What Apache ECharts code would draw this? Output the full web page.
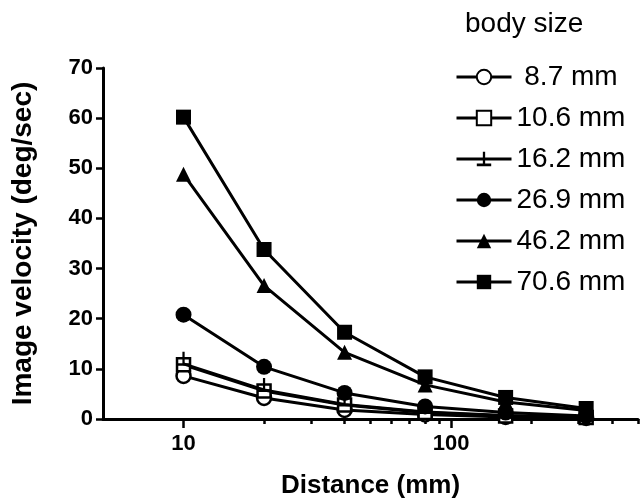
<!DOCTYPE html>
<html>
<head>
<meta charset="utf-8">
<script src="https://cdn.jsdelivr.net/npm/echarts@6/dist/echarts.min.js"></script>
<style>html,body{margin:0;padding:0;background:#fff}#c{width:643px;height:502px}</style>
</head>
<body>
<div id="c"></div>
<script>
var distances = [10, 20, 40, 80, 160, 320];
var sizes = ['8.7 mm', '10.6 mm', '16.2 mm', '26.9 mm', '46.2 mm', '70.6 mm'];
var v87  = [8.6, 4.2, 1.8, 0.9, 0.4, 0.2];
var v106 = [10.8, 5.6, 2.8, 1.3, 0.6, 0.3];
var v162 = [11.0, 5.8, 2.9, 1.4, 0.7, 0.3];
var v269 = [20.8, 10.4, 5.2, 2.5, 1.3, 0.6];
var v462 = [48.8, 26.6, 13.3, 6.8, 3.4, 1.7];
var v706 = [60.2, 33.8, 17.3, 8.4, 4.3, 2.1];
var xMajorTicks = [10, 100];
var xMinorTicks = [20, 30, 40, 50, 60, 70, 80, 90, 200, 300, 400, 500];
var yTicks = [0, 10, 20, 30, 40, 50, 60, 70];

var FONT = 'Liberation Sans, Arial, Helvetica, sans-serif';
var chart = echarts.init(document.getElementById('c'));

function pairs(vals) { return distances.map(function (d, i) { return [d, vals[i]]; }); }

var tee = 'path://M4.2,0 H5.8 V9 H10 V11 H0 V9 H4.2 Z';
var styles = [
  { symbol: 'circle', size: 14, fill: '#fff' },
  { symbol: 'rect', size: 13, fill: '#fff' },
  { symbol: tee, size: [14, 14], fill: '#000', offset: [0, -5] },
  { symbol: 'circle', size: 16, fill: '#000' },
  { symbol: 'triangle', size: 15, fill: '#000' },
  { symbol: 'rect', size: 15, fill: '#000' }
];
var allVals = [v87, v106, v162, v269, v462, v706];

var series = sizes.map(function (name, i) {
  var st = styles[i];
  return {
    name: name,
    type: 'line',
    data: pairs(allVals[i]),
    symbol: st.symbol,
    symbolSize: st.size,
    symbolOffset: st.offset || [0, 0],
    showAllSymbol: true,
    lineStyle: { color: '#000', width: 3 },
    itemStyle: { color: st.fill, borderColor: '#000', borderWidth: st.fill === '#fff' ? 2.5 : 0 },
    emphasis: { disabled: true },
    z: 2 + i
  };
});

chart.setOption({
  animation: false,
  backgroundColor: '#fff',
  textStyle: { fontFamily: FONT },
  title: {
    text: 'body size', left: 460, top: 5,
    textStyle: { fontFamily: FONT, fontSize: 28, fontWeight: 'normal', color: '#000' }
  },
  legend: {
    orient: 'vertical', left: 450, top: 57,
    itemWidth: 55, itemHeight: 18, itemGap: 11,
    data: sizes,
    formatter: function (n) { return n.length < 7 ? ' ' + n : n; },
    textStyle: { fontFamily: FONT, fontSize: 28, color: '#000', lineHeight: 30 },
    lineStyle: { width: 3, color: '#000' },
    selectedMode: false
  },
  grid: { left: 103, right: 5, top: 68, bottom: 83, containLabel: false, outerBoundsMode: 'none' },
  xAxis: [{
    type: 'log', logBase: 10, min: 5, max: 500,
    name: 'Distance (mm)', nameLocation: 'middle', nameGap: 54,
    nameTextStyle: { fontFamily: FONT, fontSize: 26, fontWeight: 'bold', color: '#000' },
    axisLine: { show: true, lineStyle: { color: '#000', width: 3 } },
    axisTick: { show: true, length: 9, lineStyle: { color: '#000', width: 2.5 }, customValues: xMajorTicks },
    axisLabel: { customValues: xMajorTicks, fontFamily: FONT, fontSize: 22, fontWeight: 'bold', color: '#000', margin: 14 },
    splitLine: { show: false }, minorTick: { show: false }
  }, {
    type: 'log', logBase: 10, min: 5, max: 500, position: 'bottom',
    axisLine: { show: false },
    axisTick: { show: true, length: 5, lineStyle: { color: '#000', width: 2.5 }, customValues: xMinorTicks },
    axisLabel: { show: false },
    splitLine: { show: false }
  }],
  yAxis: {
    type: 'value', min: 0, max: 70, interval: 10,
    name: 'Image velocity (deg/sec)', nameLocation: 'middle', nameGap: 66,
    nameTextStyle: { fontFamily: FONT, fontSize: 28, fontWeight: 'bold', color: '#000' },
    axisLine: { show: true, lineStyle: { color: '#000', width: 3 } },
    axisTick: { show: true, length: 7, lineStyle: { color: '#000', width: 2.5 } },
    axisLabel: { fontFamily: FONT, fontSize: 22, fontWeight: 'bold', color: '#000', margin: 10,
      formatter: function (v) { return yTicks.indexOf(v) >= 0 ? String(v) : ''; } },
    splitLine: { show: false }
  },
  series: series
});
</script>
</body>
</html>
